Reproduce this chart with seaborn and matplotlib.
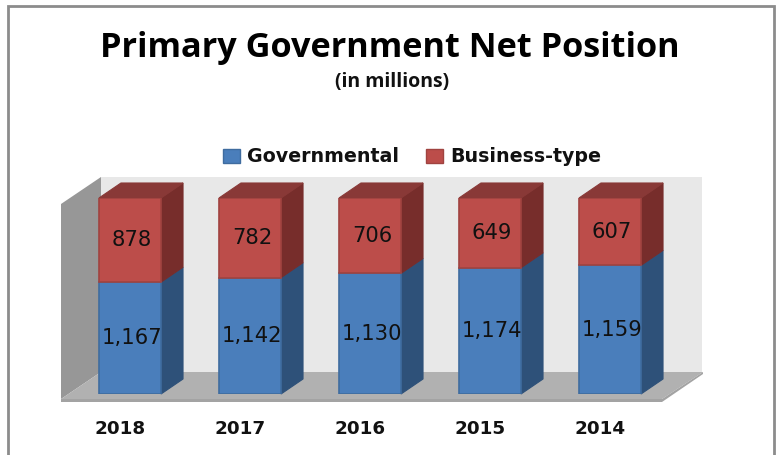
import pandas as pd
import numpy as np
import matplotlib.pyplot as plt
from matplotlib.patches import Polygon, Patch
from matplotlib.transforms import ScaledTranslation
import seaborn as sns

sns.set_theme(style="white")

years = ["2018", "2017", "2016", "2015", "2014"]
governmental = [1167, 1142, 1130, 1174, 1159]
business_type = [878, 782, 706, 649, 607]

W, H = 776, 455
# the chart is a 100% stacked 3D column, so the bars all reach the same top
BASE_Y, TOP_Y = 394, 198
LEFT_X, STEP = 70, 120
DEPTH_PX = (22, 15)

df = pd.DataFrame({"year": years, "gov": governmental, "bus": business_type})
df["total"] = df["gov"] + df["bus"]
df["gov_share"] = df["gov"] / df["total"]
df["bus_share"] = df["bus"] / df["total"]

fig = plt.figure(figsize=(W / 100, H / 100), dpi=100, facecolor="white")

# background: frame and chart walls, in pixel coordinates
bg = fig.add_axes([0, 0, 1, 1])
bg.set_xlim(0, W)
bg.set_ylim(H, 0)
bg.axis("off")
bg.plot([8, 8, 774, 774], [H, 6, 6, H], color="#8c8c8c", lw=2, solid_joinstyle="miter")
bg.add_patch(Polygon([(101, 177), (702, 177), (702, 372), (101, 372)], fc="#e8e8e8", ec="none"))
bg.add_patch(Polygon([(61, 204), (101, 177), (101, 372), (61, 399)], fc="#979797", ec="none"))
bg.add_patch(Polygon([(61, 399), (101, 372), (703, 372), (662, 399)], fc="#b1b1b1", ec="none"))
bg.add_patch(Polygon([(61, 399), (662, 399), (703, 372), (703, 374), (662, 402), (61, 402)],
                     fc="#a3a3a3", ec="none"))

ax = fig.add_axes([LEFT_X / W, (H - BASE_Y) / H, STEP * 5 / W, (BASE_Y - TOP_Y) / H])
ax.patch.set_alpha(0)

sns.barplot(data=df, x="year", y="gov_share", color="#4a7ebb", saturation=1, width=0.517,
            edgecolor="#3f6c9f", linewidth=1.2, ax=ax, zorder=3)
sns.barplot(data=df, x="year", y="bus_share", bottom=df["gov_share"], color="#bc4d4a", saturation=1,
            width=0.517, edgecolor="#a04340", linewidth=1.2, ax=ax, zorder=3)
ax.set_xlim(-0.5, 4.5)
ax.set_ylim(0, 1)
ax.set_xlabel("")
ax.set_ylabel("")
ax.set_yticks([])
ax.tick_params(axis="x", length=0, pad=18.5)
sns.despine(ax=ax, left=True, bottom=True)

dx = DEPTH_PX[0] / STEP
dy = DEPTH_PX[1] / (BASE_Y - TOP_Y)

gov_bars = ax.containers[0]
bus_bars = ax.containers[1]


def side_face(bar, color):
    x1 = bar.get_x() + bar.get_width()
    y0, y1 = bar.get_y(), bar.get_y() + bar.get_height()
    ax.add_patch(Polygon([(x1, y0), (x1 + dx, y0 + dy), (x1 + dx, y1 + dy), (x1, y1)],
                         fc=color, ec=color, lw=0.8, clip_on=False, zorder=2))


def top_face(bar, color):
    x0, x1 = bar.get_x(), bar.get_x() + bar.get_width()
    y1 = bar.get_y() + bar.get_height()
    ax.add_patch(Polygon([(x0, y1), (x0 + dx, y1 + dy), (x1 + dx, y1 + dy), (x1, y1)],
                         fc=color, ec=color, lw=0.8, clip_on=False, zorder=2))


for bar in gov_bars:
    side_face(bar, "#2e5179")
for bar in bus_bars:
    side_face(bar, "#772d2b")
    top_face(bar, "#893937")

for bars, values in [(gov_bars, governmental), (bus_bars, business_type)]:
    for bar, v in zip(bars, values):
        ax.annotate(f"{v:,}", (bar.get_x() + bar.get_width() / 2, bar.get_y() + bar.get_height() / 2),
                    xytext=(1.5, 0), textcoords="offset points", ha="center", va="center",
                    fontsize=15.2, color="#111111", family="DejaVu Sans", zorder=5)

# year labels sit left of the bar centres, as in the 3D projection
shift = ScaledTranslation(-10 / 100, 0, fig.dpi_scale_trans)
for label in ax.get_xticklabels():
    label.set_transform(label.get_transform() + shift)
    label.set_fontsize(13.2)
    label.set_fontweight("bold")
    label.set_color("#111111")
    label.set_family("DejaVu Sans")

fig.text(390 / W, 1 - 48 / H, "Primary Government Net Position", ha="center", va="center",
         fontsize=24.7, fontweight="bold", family="Open Sans", color="black")
fig.text(392 / W, 1 - 82 / H, "(in millions)", ha="center", va="center",
         fontsize=14, fontweight="bold", family="Open Sans", color="#111111")

handles = [Patch(fc="#4a7ebb", ec="#3f6c9f", label="Governmental"),
           Patch(fc="#bc4d4a", ec="#a04340", label="Business-type")]
leg = fig.legend(handles=handles, ncols=2, loc="center", bbox_to_anchor=(412 / W, 1 - 157 / H),
                 frameon=False, handlelength=0.9, handleheight=0.75, handletextpad=0.35,
                 columnspacing=1.45, prop={"family": "DejaVu Sans", "weight": "bold", "size": 13.7})
for t in leg.get_texts():
    t.set_color("#111111")

fig.savefig("out.png", dpi=100)
